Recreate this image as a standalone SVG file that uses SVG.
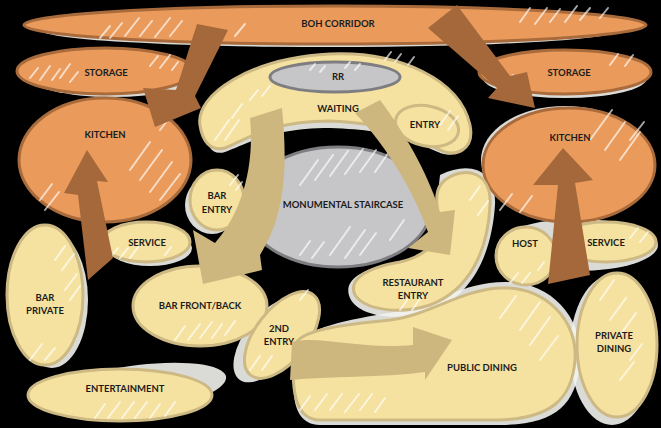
<svg xmlns="http://www.w3.org/2000/svg" width="661" height="428" viewBox="0 0 661 428">
<style>
.orange{fill:#EA9B5C;stroke:#A96B3B;stroke-width:3}
.tan{fill:#F6E2A0;stroke:#CDB984;stroke-width:3}
.gray{fill:#C6C6C9;stroke:#7E7E82;stroke-width:3}
.halo{fill:#F2F2EE;opacity:0.9}
.hatch{fill:none;stroke:#FFFFFF;stroke-width:2;stroke-linecap:round;opacity:0.65}
.brown{fill:#A4683B}
.tanarrow{fill:#CDB77E}
text{font-family:Lato,"Liberation Sans",sans-serif;font-weight:700;font-size:9.5px;fill:#1c1c1c;text-anchor:middle;dominant-baseline:central}
</style>
<rect width="661" height="428" fill="#000"/>
<g id="halos">
<ellipse class="halo" cx="330" cy="30" rx="290" ry="17"/>
<ellipse class="halo" cx="112" cy="76" rx="85" ry="21"/>
<ellipse class="halo" cx="565" cy="78" rx="82" ry="20"/>
<ellipse class="halo" cx="565" cy="160" rx="84" ry="54"/>
<ellipse class="halo" cx="212" cy="205" rx="27" ry="29"/>
<ellipse class="halo" cx="150" cy="248" rx="42" ry="18"/>
<ellipse class="halo" cx="52" cy="300" rx="36" ry="68"/>
<ellipse class="halo" cx="132" cy="390" rx="95" ry="24" transform="rotate(-8 132 390)"/>
<ellipse class="halo" cx="270" cy="340" rx="25" ry="50" transform="rotate(38 270 340)"/>
<path class="halo" d="M440,175 C470,160 497,170 495,205 C492,250 475,295 430,312 C395,322 358,316 350,298 C342,280 362,268 400,262 C430,255 440,238 436,212 Z"/>
<ellipse class="halo" cx="578" cy="245" rx="80" ry="26"/>
<path class="halo" d="M300,345 C305,328 345,320 395,312 C435,305 462,282 505,282 C555,282 585,322 580,365 C575,405 555,425 500,425 L320,425 C292,425 288,390 300,345 Z"/>
<ellipse class="halo" cx="612" cy="350" rx="42" ry="75"/>
<path class="halo" d="M205,132 C198,100 250,62 330,58 C400,55 458,85 468,128 C470,150 455,160 438,152 C420,145 400,130 330,128 C270,128 245,145 225,152 C212,156 206,145 205,132 Z"/>
</g>
<g id="boh-corridor">
<ellipse class="orange" cx="335" cy="25" rx="311" ry="19"/>
<path class="hatch" d="M100,38 l10,-12 M110,38 l12,-15 M125,36 l14,-18 M140,36 l12,-15 M155,37 l15,-19 M170,36 l12,-15 M235,36 l10,-12 M520,22 l10,-14 M535,24 l12,-16 M550,22 l10,-13 M565,22 l12,-16 M580,20 l10,-12 M600,18 l8,-10"/>
<text x="338" y="23">BOH CORRIDOR</text>
</g>
<g id="storage-left">
<ellipse class="orange" cx="105" cy="71" rx="88" ry="23"/>
<path class="hatch" d="M30,78 l8,-10 M40,80 l10,-14 M52,80 l8,-11 M60,78 l10,-14 M70,82 l8,-10 M150,66 l8,-10 M160,68 l10,-13 M172,70 l6,-8"/>
<text x="106" y="72">STORAGE</text>
</g>
<g id="kitchen-left">
<ellipse class="orange" cx="105" cy="160" rx="86" ry="62"/>
<path class="hatch" d="M130,170 l20,-28 M140,180 l22,-30 M150,192 l22,-30 M160,200 l20,-26 M40,200 l12,-16 M45,210 l14,-18 M160,130 l14,-18"/>
<text x="105" y="134">KITCHEN</text>
</g>
<g id="storage-right">
<ellipse class="orange" cx="565" cy="72" rx="86" ry="22"/>
<path class="hatch" d="M495,85 l6,-8 M505,86 l8,-11 M515,85 l8,-10 M610,65 l8,-11 M625,66 l8,-11"/>
<text x="569" y="72">STORAGE</text>
</g>
<g id="kitchen-right">
<ellipse class="orange" cx="569" cy="165" rx="86" ry="57"/>
<path class="hatch" d="M590,140 l22,-30 M605,150 l20,-28 M620,160 l20,-28 M630,140 l14,-18 M500,210 l12,-16 M520,212 l12,-16"/>
<text x="570" y="137">KITCHEN</text>
</g>
<g id="waiting">
<path class="tan" d="M200,125 C195,95 250,58 330,54 C400,51 460,80 470,125 C475,150 455,158 440,150 C420,140 400,124 330,121 C270,121 245,140 225,148 C210,152 202,140 200,125 Z"/>
<path class="hatch" d="M215,140 l14,-20 M225,140 l14,-20 M232,118 l10,-14 M250,100 l8,-10 M262,96 l8,-10 M385,60 l6,-8 M395,62 l6,-8 M408,65 l6,-8"/>
<text x="338" y="108">WAITING</text>
</g>
<g id="rr">
<ellipse class="gray" cx="335" cy="77" rx="65" ry="15"/>
<path class="hatch" d="M310,70 l5,-6 M320,72 l5,-6 M345,68 l5,-6 M355,70 l5,-6"/>
<text x="338" y="76">RR</text>
</g>
<g id="entry">
<ellipse class="tan" cx="427" cy="126" rx="32" ry="20" transform="rotate(12 427 126)"/>
<path class="hatch" d="M440,125 l10,-14 M448,130 l10,-14"/>
<text x="425" y="124">ENTRY</text>
</g>
<g id="monumental-staircase">
<ellipse class="gray" cx="338" cy="207" rx="93" ry="60"/>
<path class="hatch" d="M300,185 l18,-25 M315,180 l18,-25 M330,176 l18,-25 M345,174 l18,-25 M360,172 l16,-22 M375,172 l14,-20 M300,255 l10,-14 M312,258 l12,-16 M330,255 l20,-28 M345,258 l20,-28 M360,255 l16,-22 M390,240 l14,-20"/>
<text x="343" y="204">MONUMENTAL STAIRCASE</text>
</g>
<g id="bar-entry">
<ellipse class="tan" cx="217" cy="200" rx="27" ry="30"/>
<path class="hatch" d="M230,185 l8,-10 M236,190 l6,-8"/>
<text x="217" y="195">BAR</text>
<text x="217" y="209">ENTRY</text>
</g>
<g id="service-left">
<ellipse class="tan" cx="146" cy="242" rx="44" ry="20"/>
<path class="hatch" d="M110,258 l8,-10 M120,258 l8,-10 M130,258 l8,-11 M165,255 l6,-8"/>
<text x="147" y="242">SERVICE</text>
</g>
<g id="bar-private">
<ellipse class="tan" cx="45" cy="295" rx="38" ry="70"/>
<path class="hatch" d="M55,260 l10,-14 M62,270 l12,-16 M65,290 l12,-16 M70,300 l10,-14 M30,360 l12,-16 M45,360 l10,-12"/>
<text x="45" y="297">BAR</text>
<text x="45" y="310">PRIVATE</text>
</g>
<g id="bar-front-back">
<ellipse class="tan" cx="200" cy="306" rx="67" ry="40"/>
<path class="hatch" d="M175,340 l10,-14 M188,340 l12,-16 M200,338 l12,-16 M212,338 l10,-14 M225,335 l10,-14"/>
<text x="200" y="305">BAR FRONT/BACK</text>
</g>
<g id="entertainment">
<ellipse class="tan" cx="120" cy="395" rx="92" ry="26"/>
<path class="hatch" d="M95,418 l10,-14 M108,418 l12,-16 M122,418 l12,-16 M135,418 l12,-16 M150,418 l10,-14 M165,416 l10,-14"/>
<text x="125" y="388">ENTERTAINMENT</text>
</g>
<g id="second-entry">
<ellipse class="tan" cx="282" cy="335" rx="26" ry="51" transform="rotate(38 282 335)"/>
<path class="hatch" d="M250,370 l10,-14 M262,370 l10,-14 M300,300 l8,-10"/>
<text x="279" y="328">2ND</text>
<text x="279" y="341">ENTRY</text>
</g>
<g id="restaurant-entry">
<path class="tan" d="M445,180 C465,165 492,172 490,205 C488,250 470,290 430,305 C400,315 365,310 355,295 C348,280 365,268 400,262 C430,255 440,240 438,215 C436,200 435,188 445,180 Z"/>
<path class="hatch" d="M470,200 l10,-14 M478,215 l10,-14 M400,310 l10,-14 M412,310 l10,-14"/>
<text x="413" y="282">RESTAURANT</text>
<text x="413" y="295">ENTRY</text>
</g>
<g id="host">
<ellipse class="tan" cx="526" cy="256" rx="30" ry="29"/>
<path class="hatch" d="M510,283 l8,-10 M522,283 l8,-10 M538,270 l6,-8"/>
<text x="525" y="243">HOST</text>
</g>
<g id="service-right">
<ellipse class="tan" cx="606" cy="242" rx="50" ry="20"/>
<path class="hatch" d="M630,238 l8,-10 M640,242 l8,-10"/>
<text x="606" y="242">SERVICE</text>
</g>
<g id="private-dining">
<ellipse class="tan" cx="617" cy="345" rx="40" ry="72"/>
<path class="hatch" d="M600,300 l14,-20 M610,320 l16,-22 M620,335 l16,-22 M630,360 l12,-16 M620,380 l14,-18"/>
<text x="614" y="335">PRIVATE</text>
<text x="614" y="348">DINING</text>
</g>
<g id="public-dining">
<path class="tan" d="M295,345 C300,330 340,325 390,320 C430,315 460,290 500,288 C545,286 578,320 575,360 C572,400 550,418 500,420 L320,420 C295,420 290,390 295,345 Z"/>
<path class="hatch" d="M300,410 l10,-14 M315,410 l12,-16 M330,410 l12,-16 M345,412 l14,-18 M360,410 l12,-16 M375,412 l10,-14 M520,330 l20,-28 M530,345 l20,-28 M540,360 l18,-24 M500,318 l16,-22"/>
<text x="482" y="367">PUBLIC DINING</text>
</g>
<g id="connectors">
<path class="brown" d="M197,24 L228,30 L195,96 L201,108 L155,127 L143,88 L176,90 Z"/>
<path class="brown" d="M428,28 L457,5 L510,76 L527,72 L535,108 L488,98 L497,88 Z"/>
<path class="brown" d="M87,150 L108,182 L97,181 L113,258 L88,280 L78,195 L64,193 Z"/>
<path class="brown" d="M563,148 L593,180 L575,183 L590,275 L548,284 L558,185 L533,185 Z"/>
<path class="tanarrow" d="M250,118 L282,108 C288,170 285,215 260,255 L262,270 L203,284 L193,230 L215,243 C240,215 255,170 250,118 Z"/>
<path class="tanarrow" d="M355,113 L380,100 C410,140 430,180 440,212 L455,210 L450,255 L408,248 L428,232 C415,195 390,150 355,113 Z"/>
<path class="tanarrow" d="M292,342 C320,335 360,350 413,345 L413,327 L452,340 L425,380 L425,372 C380,378 330,376 290,380 Z"/>
</g>
</svg>
